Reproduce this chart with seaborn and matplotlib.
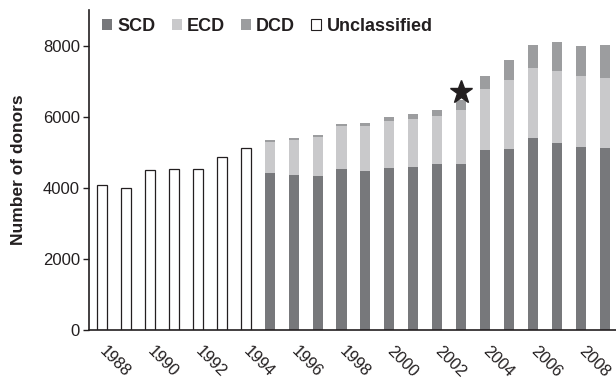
import numpy as np
import pandas as pd
import matplotlib
matplotlib.use("Agg")
import matplotlib.pyplot as plt
from matplotlib.patches import Patch
import seaborn as sns

# Donor counts per year, by donor category
years = list(range(1988, 2010))
unclassified = [4085, 4010, 4500, 4525, 4525, 4865, 5110] + [np.nan] * 15
scd = [np.nan] * 7 + [4410, 4365, 4340, 4535, 4480, 4575, 4590, 4685,
                      4685, 5080, 5090, 5415, 5275, 5165, 5120]
ecd = [np.nan] * 7 + [890, 995, 1090, 1200, 1260, 1315, 1340, 1325,
                      1520, 1690, 1945, 1970, 2020, 1990, 1980]
dcd = [np.nan] * 7 + [55, 50, 55, 55, 95, 115, 140, 190,
                      255, 375, 575, 630, 795, 845, 920]
star_year, star_value = 2003, 6700

y_ticks = [0, 2000, 4000, 6000, 8000]

sns.set_style("ticks")
plt.rcParams["font.family"] = ["Liberation Sans", "DejaVu Sans"]

col_scd = "#77787b"
col_ecd = "#c9c9cb"
col_dcd = "#9c9d9f"
col_edge = "#231f20"

df = pd.DataFrame({
    "year": [str(y) for y in years],
    "unclassified": unclassified,
    "scd": scd,
    "ecd": ecd,
    "dcd": dcd,
})
df["scd_ecd"] = df["scd"] + df["ecd"]
df["total"] = df["scd_ecd"] + df["dcd"]
order = df["year"].tolist()

fig = plt.figure(figsize=(6.16, 3.82), dpi=100)
ax = fig.add_axes([0.1445, 0.1353, 0.8555, 0.8384])

bw = 0.42
# Stacked bars: draw cumulative totals, then cover with lower segments
sns.barplot(data=df, x="year", y="total", order=order, color=col_dcd,
            saturation=1, width=bw, linewidth=0, ax=ax)
sns.barplot(data=df, x="year", y="scd_ecd", order=order, color=col_ecd,
            saturation=1, width=bw, linewidth=0, ax=ax)
sns.barplot(data=df, x="year", y="scd", order=order, color=col_scd,
            saturation=1, width=bw, linewidth=0, ax=ax)
sns.barplot(data=df, x="year", y="unclassified", order=order, color="white",
            saturation=1, width=bw, edgecolor=col_edge, linewidth=0.9, ax=ax)

# Marker above 2003
ax.plot(order.index(str(star_year)), star_value, marker="*", ms=17,
        color=col_edge, linestyle="none", zorder=5)

ax.set_xlim(-0.54, len(years) - 1 + 0.46)
ax.set_ylim(0, 9000)
ax.set_yticks(y_ticks)
ax.set_yticklabels([str(v) for v in y_ticks], fontsize=12, color="#231f20")
ax.set_xticks(range(0, len(years), 2))
ax.set_xticklabels([str(y) for y in years[::2]], rotation=-45, ha="left",
                   va="center", rotation_mode="anchor",
                   fontsize=11.8, color="#231f20")
ax.tick_params(axis="x", length=0, pad=13)
ax.tick_params(axis="y", length=4.5, width=1, color=col_edge, pad=2)

ax.set_xlabel("")
ax.set_ylabel("Number of donors", fontsize=12.5, fontweight="bold",
              color="#231f20", labelpad=12)

for side in ("top", "right"):
    ax.spines[side].set_visible(False)
for side in ("left", "bottom"):
    ax.spines[side].set_color(col_edge)
    ax.spines[side].set_linewidth(1.2)

handles = [
    Patch(facecolor=col_scd, edgecolor="none", label="SCD"),
    Patch(facecolor=col_ecd, edgecolor="none", label="ECD"),
    Patch(facecolor=col_dcd, edgecolor="none", label="DCD"),
    Patch(facecolor="white", edgecolor=col_edge, linewidth=0.8, label="Unclassified"),
]
leg = ax.legend(handles=handles, loc="upper left", bbox_to_anchor=(0.005, 1.008),
                ncol=4, frameon=False, handlelength=0.55, handleheight=0.55,
                handletextpad=0.28, columnspacing=0.9, borderaxespad=0.2,
                prop={"size": 13, "weight": "bold"})
for t in leg.get_texts():
    t.set_color("#231f20")

fig.savefig("out.png", dpi=100)
